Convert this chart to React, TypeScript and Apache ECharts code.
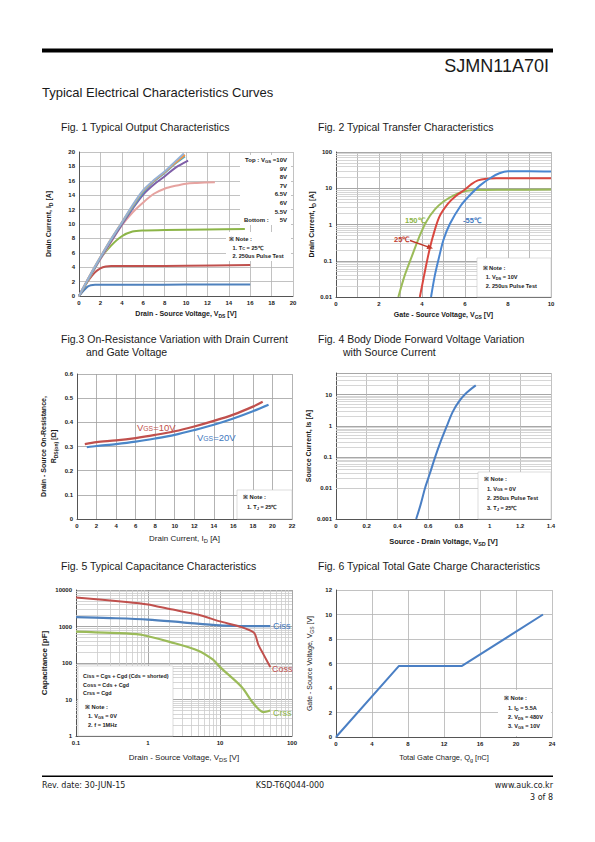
import { useEffect, useRef } from 'react';
import * as echarts from 'echarts';

const FONT = 'Liberation Sans';
const INK = '#1a1a1a';

// ---------- Fig. 1 Typical Output Characteristics (x: VDS [V], y: ID [A]) ----------
const f1Colors = ['#95b3d7', '#f79646', '#4bacc6', '#7f5fa8', '#e6a3a0', '#8cb548', '#c0504d', '#4f81bd'];
const f1V10 = [[0, 0], [1, 2.8], [2, 5.4], [3, 7.9], [4, 10.2], [5, 12.6], [6, 14.7], [7, 16.1], [8, 17.3], [9, 18.7], [9.8, 19.8]];
const f1V9 = [[0, 0], [1, 2.8], [2, 5.4], [3, 7.9], [4, 10.2], [5, 12.5], [6, 14.6], [7, 16.0], [8, 17.2], [9, 18.5], [9.9, 19.6]];
const f1V8 = [[0, 0], [1, 2.7], [2, 5.3], [3, 7.8], [4, 10.1], [5, 12.3], [6, 14.4], [7, 15.9], [8, 17.1], [9, 18.4], [9.9, 19.4]];
const f1V7 = [[0, 0], [1, 2.7], [2, 5.2], [3, 7.6], [4, 9.9], [5, 12.1], [6, 14.1], [7, 15.5], [8, 16.6], [9, 17.8], [10.2, 18.8]];
const f1V65 = [[0, 0], [1, 2.6], [2, 5.1], [3, 7.5], [4, 9.8], [5, 11.6], [6, 13.0], [7, 14.2], [8, 14.9], [9, 15.3], [10, 15.6], [11, 15.7], [12.7, 15.8]];
const f1V6 = [[0, 0], [1, 2.6], [2, 5.2], [3, 7.0], [4, 8.3], [5, 8.95], [6, 9.1], [8, 9.15], [12, 9.25], [15.5, 9.3]];
const f1V55 = [[0, 0], [0.5, 1.3], [1, 2.4], [1.5, 3.3], [2, 3.85], [2.5, 4.1], [3, 4.15], [6, 4.15], [10, 4.2], [16, 4.3]];
const f1V5 = [[0, 0], [0.5, 0.85], [0.8, 1.3], [1.1, 1.5], [1.5, 1.55], [6, 1.55], [10, 1.58], [16, 1.6]];
const f1Curves = [f1V10, f1V9, f1V8, f1V7, f1V65, f1V6, f1V55, f1V5];
const f1LegendRows = ['9V', '8V', '7V', '6.5V', '6V', '5.5V'];

// ---------- Fig. 2 Typical Transfer Characteristics (x: VGS [V], y: ID [A], log) ----------
const f2T150 = [[2.9, 0.01], [3.2, 0.04], [3.5, 0.12], [3.9, 0.5], [4.2, 1.2], [4.6, 2.6], [5.0, 4.3], [5.5, 6.5], [6.0, 8.3], [6.5, 8.9], [7, 9], [8, 9.1], [10, 9.2]];
const f2T25 = [[3.9, 0.01], [4.1, 0.04], [4.3, 0.15], [4.5, 0.45], [4.8, 1.6], [5.2, 3.7], [5.6, 6.3], [6.0, 9.2], [6.3, 13], [6.6, 16.5], [7.0, 18.3], [7.5, 18.9], [8, 19], [10, 19]];
const f2Tm55 = [[4.42, 0.01], [4.6, 0.04], [4.8, 0.13], [5.0, 0.38], [5.3, 1.05], [5.8, 3.3], [6.2, 6.2], [6.7, 12], [7.2, 19.5], [7.6, 26], [8.0, 29.5], [9, 29.5], [10, 29]];

// ---------- Fig. 3 On-Resistance (x: ID [A], y: RDS(on) [Ω]) ----------
const f3V10 = [[0.8, 0.31], [2, 0.318], [4, 0.325], [6, 0.335], [8, 0.348], [10, 0.363], [12, 0.383], [14, 0.406], [16, 0.432], [18, 0.465], [19, 0.485]];
const f3V20 = [[1, 0.297], [2, 0.302], [4, 0.31], [6, 0.32], [8, 0.333], [10, 0.348], [12, 0.368], [14, 0.39], [16, 0.416], [18, 0.446], [19.6, 0.473]];

// ---------- Fig. 4 Body Diode (x: VSD [V], y: Is [A], log) ----------
const f4Is = [[0.522, 0.001], [0.55, 0.0028], [0.58, 0.01], [0.61, 0.028], [0.646, 0.1], [0.68, 0.3], [0.722, 1], [0.76, 2.8], [0.8, 6], [0.85, 11.5], [0.91, 20]];

// ---------- Fig. 5 Capacitance (x: VDS [V], log; y: pF, log) ----------
const f5Ciss = [[0.1, 1800], [0.3, 1700], [1, 1550], [3, 1300], [10, 1070], [20, 1030], [50, 1020]];
const f5Coss = [[0.1, 6200], [0.5, 4700], [1, 4000], [2, 3000], [5, 2100], [10, 1380], [20, 960], [30, 660], [34, 320], [40.5, 167], [50, 77]];
const f5Crss = [[0.1, 720], [0.7, 617], [1, 540], [2, 380], [5, 218], [8, 123], [10, 77], [20, 22], [29, 7.9], [40, 4.5], [50, 5]];

// ---------- Fig. 6 Gate Charge (x: Qg [nC], y: VGS [V]) ----------
const f6Vgs = [[0, 0], [7, 5.8], [14, 5.8], [23, 10]];

// ---------- log-paper minor grid values (2..9 per decade) ----------
const minorSteps = [2, 3, 4, 5, 6, 7, 8, 9];
const f2MinorDecades = [0.01, 0.1, 1, 10];
const f4MinorDecades = [0.001, 0.01, 0.1, 1, 10];
const f5XMinorDecades = [0.1, 1, 10];
const f5YMinorDecades = [1, 10, 100, 1000];

const minorVals = (decades: number[], max: number) => {
  const out: number[] = [];
  decades.forEach((d) => minorSteps.forEach((s) => {
    const v = +(d * s).toPrecision(6);
    if (v < max) out.push(v);
  }));
  return out;
};

const logFmt = (v: number) => {
  const l = Math.log10(v);
  const e = Math.round(l);
  if (Math.abs(l - e) > 1e-6) return '';
  return e < 0 ? v.toFixed(-e) : String(Math.round(Math.pow(10, e)));
};

const subStyle = (size: number, bold: boolean, color = INK) => ({
  fontSize: +(size * 0.72).toFixed(1), fontWeight: bold ? 'bold' : 'normal', fontFamily: FONT, color,
  lineHeight: 5, verticalAlign: 'bottom',
});
const nameTS = (size: number, bold: boolean) => ({
  fontSize: size, fontWeight: bold ? 'bold' : 'normal', fontFamily: FONT, color: INK, lineHeight: size + 2.5,
  rich: { s: subStyle(size, bold) },
});
const tickLbl = { fontSize: 6, fontWeight: 'bold', color: INK, fontFamily: FONT, margin: 4 };

const grids = [
  { left: 79, top: 152, width: 214, height: 144 },
  { left: 336, top: 152, width: 215, height: 145 },
  { left: 77, top: 374, width: 215, height: 145 },
  { left: 336, top: 373, width: 215, height: 146 },
  { left: 76, top: 590, width: 216, height: 146 },
  { left: 336, top: 590, width: 216, height: 147 },
];

type AxOpt = {
  log?: boolean; min: number; max: number; interval?: number; name: string; gap: number;
  ns?: number; nb?: boolean; fmt?: any; gc?: string;
};
const axis = (gi: number, o: AxOpt) => {
  const a: any = {
    type: o.log ? 'log' : 'value', gridIndex: gi, min: o.min, max: o.max,
    name: o.name, nameLocation: 'middle', nameGap: o.gap, nameTextStyle: nameTS(o.ns ?? 7, o.nb ?? true),
    axisLine: { show: true, onZero: false, lineStyle: { color: '#555', width: 1 } },
    axisTick: { show: false },
    axisLabel: { ...tickLbl, formatter: o.fmt },
    splitLine: { show: true, lineStyle: { color: o.gc ?? '#b2b2b2', width: 0.8 } },
  };
  if (o.log) a.logBase = 10; else a.interval = o.interval;
  if (!o.fmt) delete a.axisLabel.formatter;
  return a;
};

const minorMark = (axisKey: 'xAxis' | 'yAxis', vals: number[]) => vals.map((v) => ({ [axisKey]: v }));

const line = (gi: number, data: number[][], color: string, extra: any = {}) => ({
  type: 'line', xAxisIndex: gi, yAxisIndex: gi, data, symbol: 'none', showSymbol: false,
  smooth: 0.3, silent: true, z: 4,
  lineStyle: { color, width: 2 }, ...extra,
});

const markGrid = (data: any[]) => ({
  silent: true, z: 1, symbol: ['none', 'none'], label: { show: false }, animation: false,
  lineStyle: { color: '#cccccc', width: 0.8, type: 'solid' }, emphasis: { disabled: true }, data,
});

// ---------- graphic helpers ----------
const T = (x: number, y: number, text: string, o: any = {}) => ({
  type: 'text', x, y, z: 20, scaleX: o.scaleX ?? 1, originX: 0, originY: 0,
  style: {
    text, fill: o.color ?? INK, fontSize: o.size ?? 6, fontWeight: o.bold === false ? 'normal' : 'bold',
    fontFamily: o.font ?? FONT, align: o.align ?? 'left', textAlign: o.align ?? 'left',
    verticalAlign: 'middle', textVerticalAlign: 'middle',
    rich: { s: { ...subStyle(o.size ?? 6, o.bold !== false, o.color ?? INK), fill: o.color ?? INK } },
  },
});
const box = (x: number, y: number, w: number, h: number, border = true) => ({
  type: 'rect', z: 10, shape: { x, y, width: w, height: h },
  style: { fill: '#ffffff', stroke: border ? '#c8c8c8' : 'none', lineWidth: 0.6 },
});
const title = (x: number, y: number, text: string) => T(x, y, text, { size: 10.5, bold: false });

export default function App() {
  const ref = useRef<HTMLDivElement>(null);
  useEffect(() => {
    if (!ref.current) return;
    const chart = echarts.init(ref.current, undefined, { renderer: 'svg' });

    const xAxes = [
      axis(0, { min: 0, max: 20, interval: 2, name: 'Drain - Source Voltage, V{s|DS} [V]', gap: 13 }),
      axis(1, { min: 0, max: 10, interval: 1, name: 'Gate - Source Voltage, V{s|GS} [V]', gap: 13, fmt: (v: number) => (v % 2 === 0 ? String(v) : ''), gc: '#a8a8a8' }),
      axis(2, { min: 0, max: 22, interval: 2, name: 'Drain Current, I{s|D} [A]', gap: 14, ns: 8, nb: false, gc: '#a0a0a0' }),
      axis(3, { min: 0, max: 1.4, interval: 0.2, name: 'Source - Drain Voltage, V{s|SD} [V]', gap: 17, ns: 7.5 }),
      axis(4, { log: true, min: 0.1, max: 100, name: 'Drain - Source Voltage, V{s|DS} [V]', gap: 16, ns: 8, nb: false, fmt: logFmt, gc: '#909090' }),
      axis(5, { min: 0, max: 24, interval: 4, name: 'Total Gate Charge, Q{s|g} [nC]', gap: 15, ns: 7.5, nb: false }),
    ];
    const yAxes = [
      axis(0, { min: 0, max: 20, interval: 2, name: 'Drain Current, I{s|D} [A]', gap: 26 }),
      axis(1, { log: true, min: 0.01, max: 100, name: 'Drain Current, I{s|D} [A]', gap: 18, fmt: logFmt, gc: '#909090' }),
      axis(2, { min: 0, max: 0.6, interval: 0.1, name: 'Drain - Source On-Resistance,\nR{s|DS(on)} [Ω]', gap: 19, gc: '#a0a0a0' }),
      axis(3, { log: true, min: 0.001, max: 50, name: 'Source Current, Is [A]', gap: 20, fmt: logFmt, gc: '#909090' }),
      axis(4, { log: true, min: 1, max: 10000, name: 'Capacitance [pF]', gap: 26, ns: 8, fmt: logFmt, gc: '#909090' }),
      axis(5, { min: 0, max: 12, interval: 2, name: 'Gate - Source Voltage, V{s|GS} [V]', gap: 22, ns: 7, nb: false }),
    ];

    const series: any[] = [];
    // Fig 1: draw bottom curves first, top curves last
    for (let i = f1Curves.length - 1; i >= 0; i--) series.push(line(0, f1Curves[i], f1Colors[i]));
    // Fig 2
    series.push(line(1, f2T150, '#9bbb59', {
      markLine: markGrid(minorMark('yAxis', minorVals(f2MinorDecades, 100))),
    }));
    series.push(line(1, f2T25, '#d9473f'));
    series.push(line(1, f2Tm55, '#4a86d0'));
    // Fig 3
    series.push(line(2, f3V10, '#c0504d', { lineStyle: { color: '#c0504d', width: 2.2 } }));
    series.push(line(2, f3V20, '#4a86c8', { lineStyle: { color: '#4a86c8', width: 2.2 } }));
    // Fig 4
    series.push(line(3, f4Is, '#4a7fc4', {
      markLine: markGrid(minorMark('yAxis', minorVals(f4MinorDecades, 50))),
    }));
    // Fig 5
    series.push(line(4, f5Ciss, '#4f81bd', {
      lineStyle: { color: '#4f81bd', width: 2.2 },
      markLine: markGrid([
        ...minorMark('xAxis', minorVals(f5XMinorDecades, 100)),
        ...minorMark('yAxis', minorVals(f5YMinorDecades, 10000)),
      ]),
    }));
    series.push(line(4, f5Coss, '#c0504d', { smooth: 0.2 }));
    series.push(line(4, f5Crss, '#9bbb59', { lineStyle: { color: '#9bbb59', width: 2.2 } }));
    // Fig 6
    series.push(line(5, f6Vgs, '#4a7fc4', { smooth: false }));

    const graphic: any[] = [
      // header / footer
      { type: 'rect', z: 20, shape: { x: 42, y: 48.5, width: 511, height: 4 }, style: { fill: '#000' } },
      T(549, 66, 'SJMN11A70I', { size: 18, bold: false, align: 'right', scaleX: 1 }),
      T(42, 92, 'Typical Electrical Characteristics Curves', { size: 13, bold: false }),
      { type: 'rect', z: 20, shape: { x: 42, y: 775.5, width: 511, height: 1.6 }, style: { fill: '#000' } },
      T(42, 785, 'Rev. date: 30-JUN-15', { size: 8, bold: false, font: 'DejaVu Sans' }),
      T(290, 785, 'KSD-T6Q044-000', { size: 8, bold: false, font: 'DejaVu Sans', align: 'center' }),
      T(553, 785, 'www.auk.co.kr', { size: 8, bold: false, font: 'DejaVu Sans', align: 'right' }),
      T(553, 797, '3 of 8', { size: 8, bold: false, font: 'DejaVu Sans', align: 'right' }),
      // titles
      title(61, 127, 'Fig. 1 Typical Output Characteristics'),
      title(318, 127, 'Fig. 2 Typical Transfer Characteristics'),
      title(61, 339, 'Fig.3 On-Resistance Variation with Drain Current'),
      title(86, 352, 'and Gate Voltage'),
      title(318, 339, 'Fig. 4 Body Diode Forward Voltage Variation'),
      title(343, 352, 'with Source Current'),
      title(61, 566, 'Fig. 5 Typical Capacitance Characteristics'),
      title(318, 566, 'Fig. 6 Typical Total Gate Charge Characteristics'),

      // Fig 1 legend + note
      box(240, 155, 51, 70, false),
      T(287, 160, 'Top : V{s|GS} =10V', { align: 'right' }),
      ...f1LegendRows.map((r, i) => T(287, 168.6 + i * 8.6, r, { align: 'right' })),
      T(244, 220.3, 'Bottom :', {}),
      T(287, 220.3, '5V', { align: 'right' }),
      box(226, 232, 65, 29, false),
      T(229, 239, '※ Note :', { size: 5.8 }),
      T(232.5, 247.5, '1. T{s|C} = 25℃', { size: 5.6 }),
      T(232.5, 256, '2. 250us Pulse Test', { size: 5.6 }),

      // Fig 2 labels, arrow, note
      T(405, 220, '150℃', { color: '#8db548', size: 7.5 }),
      T(394, 239, '25℃', { color: '#c0392b', size: 7.5 }),
      T(463, 220, '-55℃', { color: '#3f78c0', size: 7.5 }),
      { type: 'line', z: 20, shape: { x1: 410, y1: 240.5, x2: 428, y2: 246.8 }, style: { stroke: '#c0392b', lineWidth: 1.4 } },
      { type: 'polygon', z: 20, shape: { points: [[433, 248.5], [426.5, 248.9], [428.3, 244.2]] }, style: { fill: '#c0392b' } },
      box(477, 258, 74, 39),
      T(482.5, 268.3, '※ Note :', { size: 5.8 }),
      T(485.7, 277, '1. V{s|DS} = 10V', { size: 5.6 }),
      T(485.7, 285.7, '2. 250us Pulse Test', { size: 5.6 }),

      // Fig 3 labels + note
      T(137, 427, 'V{s|GS}=10V', { color: '#c0504d', size: 9.5, bold: false }),
      T(197, 437, 'V{s|GS}=20V', { color: '#3f78c0', size: 9.5, bold: false }),
      box(237, 490, 55, 29),
      T(243, 497, '※ Note :', { size: 5.8 }),
      T(247, 507, '1. T{s|J} = 25℃', { size: 5.6 }),

      // Fig 4 note
      box(478, 472, 73, 47),
      T(484, 479, '※ Note :', { size: 5.8 }),
      T(487, 488.5, '1. V{s|GS} = 0V', { size: 5.6 }),
      T(487, 498, '2. 250us Pulse Test', { size: 5.6 }),
      T(487, 508, '3. T{s|J} = 25℃', { size: 5.6 }),

      // Fig 5 curve labels + legend box
      T(273, 626, 'Ciss', { color: '#3f78c0', size: 9, bold: false }),
      T(272, 669, 'Coss', { color: '#c0504d', size: 9, bold: false }),
      T(273, 713, 'Crss', { color: '#8db548', size: 9, bold: false }),
      box(78, 666, 95, 70),
      T(83, 676, 'Ciss = Cgs + Cgd (Cds = shorted)', { size: 5.4 }),
      T(83, 684.5, 'Coss = Cds + Cgd', { size: 5.4 }),
      T(83, 693, 'Crss = Cgd', { size: 5.4 }),
      T(85, 707, '※ Note :', { size: 5.8 }),
      T(88, 716, '1. V{s|GS} = 0V', { size: 5.6 }),
      T(88, 725, '2. f = 1MHz', { size: 5.6 }),

      // Fig 6 note
      box(498, 690, 53, 46, false),
      T(504, 698, '※ Note :', { size: 5.8 }),
      T(508, 708, '1. I{s|D} = 5.5A', { size: 5.6 }),
      T(508, 717, '2. V{s|DS} = 480V', { size: 5.6 }),
      T(508, 726, '3. V{s|GS} = 10V', { size: 5.6 }),
    ];

    chart.setOption({
      animation: false,
      backgroundColor: '#ffffff',
      grid: grids.map((g) => ({ ...g, containLabel: false })),
      xAxis: xAxes,
      yAxis: yAxes,
      series,
      graphic,
    });
    return () => chart.dispose();
  }, []);
  return (
    <div
      ref={ref}
      style={{ position: 'absolute', left: 0, top: 0, width: 595, height: 842, background: '#fff' }}
    />
  );
}
